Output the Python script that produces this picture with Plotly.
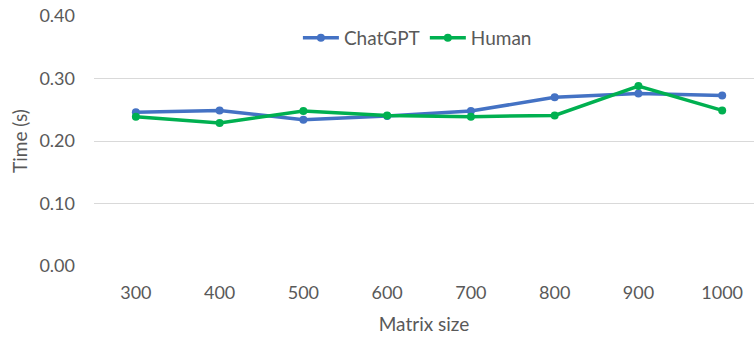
import plotly.graph_objects as go

matrix_sizes = ["300", "400", "500", "600", "700", "800", "900", "1000"]
chatgpt_time = [0.246, 0.249, 0.234, 0.240, 0.248, 0.270, 0.276, 0.273]
human_time = [0.239, 0.229, 0.248, 0.241, 0.239, 0.241, 0.288, 0.249]
y_ticks = [0.0, 0.1, 0.2, 0.3, 0.4]

font_family = "Lato, Carlito, Calibri, sans-serif"
text_color = "#595959"

fig = go.Figure()
fig.add_trace(go.Scatter(
    x=matrix_sizes, y=chatgpt_time, name="ChatGPT", mode="lines+markers",
    line=dict(color="#4472C4", width=3.5), marker=dict(size=8, color="#4472C4"),
))
fig.add_trace(go.Scatter(
    x=matrix_sizes, y=human_time, name="Human", mode="lines+markers",
    line=dict(color="#00B050", width=3.5), marker=dict(size=8, color="#00B050"),
))

fig.update_layout(
    width=754, height=339,
    margin=dict(l=94, r=0, t=16, b=73),
    paper_bgcolor="white", plot_bgcolor="white",
    font=dict(family=font_family, size=18, color=text_color),
    showlegend=True,
    legend=dict(orientation="h", x=0.49, xanchor="center", y=0.912, yanchor="middle",
                font=dict(size=19, color=text_color), bgcolor="rgba(0,0,0,0)",
                itemwidth=36, traceorder="normal"),
    xaxis=dict(
        type="category", range=[-0.5, 7.38], automargin=False,
        showgrid=False, showline=False, zeroline=False, ticks="",
        ticklabelstandoff=14, ticklabeloverflow="allow",
        title=dict(text="Matrix size", font=dict(size=19, color=text_color), standoff=15),
        tickfont=dict(size=18, color=text_color),
    ),
    yaxis=dict(
        range=[-0.0001, 0.4002], tickvals=y_ticks, tickformat=".2f", automargin=False,
        showgrid=True, gridcolor="#D9D9D9", gridwidth=1,
        zeroline=False, showline=False, ticks="",
        ticklabelstandoff=18, ticklabeloverflow="allow",
        title=dict(text="Time (s)", font=dict(size=19, color=text_color), standoff=6),
        tickfont=dict(size=18, color=text_color),
    ),
)

# Remove the default page margin so the figure fills the window exactly.
fig.write_html("out.html", config={"displayModeBar": False},
               post_script="document.body.style.margin='0';")
